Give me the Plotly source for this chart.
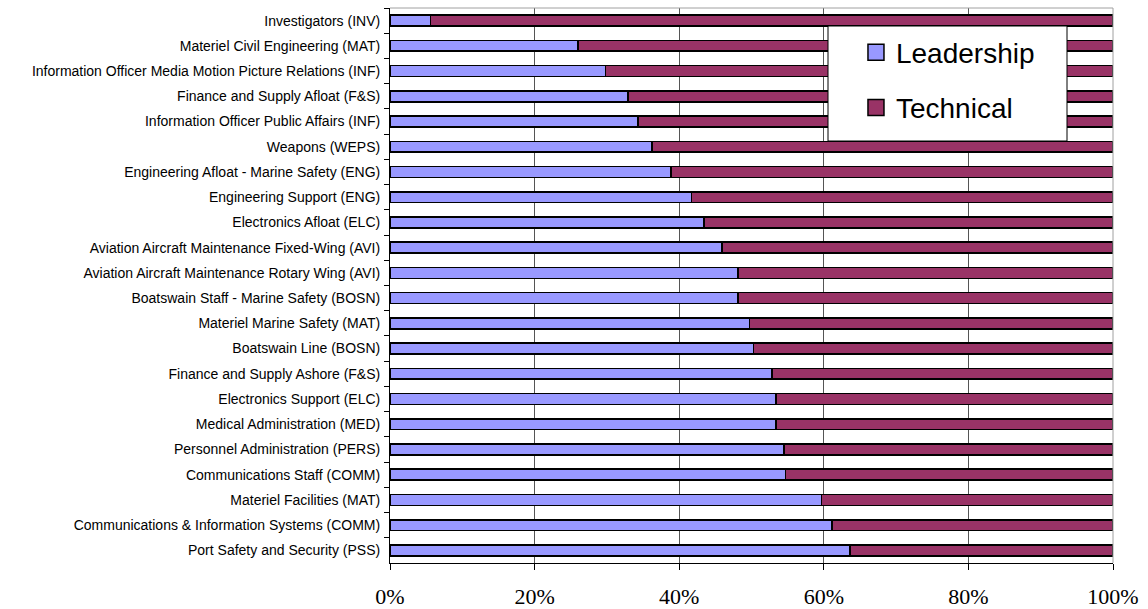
import plotly.graph_objects as go

# Career fields, listed top to bottom
categories = [
    "Investigators (INV)",
    "Materiel Civil Engineering (MAT)",
    "Information Officer Media Motion Picture Relations (INF)",
    "Finance and Supply Afloat (F&S)",
    "Information Officer Public Affairs (INF)",
    "Weapons (WEPS)",
    "Engineering Afloat - Marine Safety (ENG)",
    "Engineering Support (ENG)",
    "Electronics Afloat (ELC)",
    "Aviation Aircraft Maintenance Fixed-Wing (AVI)",
    "Aviation Aircraft Maintenance Rotary Wing (AVI)",
    "Boatswain Staff - Marine Safety (BOSN)",
    "Materiel Marine Safety (MAT)",
    "Boatswain Line (BOSN)",
    "Finance and Supply Ashore (F&S)",
    "Electronics Support (ELC)",
    "Medical Administration (MED)",
    "Personnel Administration (PERS)",
    "Communications Staff (COMM)",
    "Materiel Facilities (MAT)",
    "Communications & Information Systems (COMM)",
    "Port Safety and Security (PSS)",
]

# Share of leadership competencies (percent); technical is the remainder
leadership = [5.6, 26.0, 29.8, 32.9, 34.3, 36.2, 38.9, 41.7, 43.4, 45.9, 48.1,
              48.1, 49.7, 50.3, 52.8, 53.4, 53.4, 54.5, 54.7, 59.7, 61.1, 63.6]
technical = [round(100 - v, 1) for v in leadership]

x_ticks = [0, 20, 40, 60, 80, 100]
x_tick_labels = ["0%", "20%", "40%", "60%", "80%", "100%"]

series = [
    ("Leadership", leadership, "#9999FF", "lead"),
    ("Technical", technical, "#993366", "tech"),
]

fig = go.Figure()
for name, values, color, group in series:
    fig.add_trace(go.Bar(
        y=categories, x=values, name=name, orientation="h",
        legendgroup=group, showlegend=False,
        marker=dict(color=color, line=dict(color="#000000", width=1.6)),
    ))
for name, values, color, group in series:
    # legend key: larger square swatch for each series
    fig.add_trace(go.Scatter(
        x=[None], y=[None], mode="markers", name=name, legendgroup=group,
        marker=dict(symbol="square", size=16, color=color,
                    line=dict(color="#000000", width=1.5)),
    ))

fig.update_layout(
    width=1148, height=609,
    barmode="stack", bargap=0.57,
    paper_bgcolor="white", plot_bgcolor="white",
    margin=dict(l=390, r=35, t=8, b=46),
    showlegend=True,
    legend=dict(
        x=0.6445, y=0.965, xanchor="left", yanchor="top",
        bgcolor="rgba(0,0,0,0)", borderwidth=0,
        font=dict(family="Liberation Sans, Arial, sans-serif", size=28, color="#000"),
        tracegroupgap=16, itemsizing="trace",
    ),
    font=dict(family="Liberation Sans, Arial, sans-serif", color="#000"),
)

fig.update_xaxes(
    range=[0, 100], tickmode="array", tickvals=x_ticks, ticktext=x_tick_labels,
    showgrid=True, gridcolor="#555555", gridwidth=1,
    showline=True, linecolor="#000000", linewidth=1,
    ticks="outside", ticklen=6, tickcolor="#000000",
    tickfont=dict(family="Liberation Serif, Times New Roman, serif", size=22, color="#000"),
    ticklabelstandoff=8, automargin=False,
    zeroline=False, fixedrange=True,
)
fig.update_yaxes(
    autorange="reversed", type="category",
    showgrid=False, showline=True, linecolor="#000000", linewidth=1,
    ticks="outside", ticklen=5, tickcolor="#000000", tickson="boundaries",
    tickfont=dict(family="Liberation Sans, Arial, sans-serif", size=14, color="#000"),
    ticklabelstandoff=6, automargin=False,
    fixedrange=True,
)

# Light frame on the plot area's top and right edges
fig.add_shape(type="line", xref="paper", yref="paper", x0=0, x1=1, y0=1, y1=1,
              line=dict(color="#A0A0A0", width=1))
fig.add_shape(type="line", xref="paper", yref="paper", x0=1, x1=1, y0=0, y1=1,
              line=dict(color="#A0A0A0", width=1))

# Legend box
fig.add_shape(type="rect", xref="paper", yref="paper",
              x0=(828 - 390) / 723, x1=(1067 - 390) / 723,
              y0=(563 - 141) / 555, y1=(563 - 26) / 555,
              fillcolor="white", line=dict(color="#000000", width=1), layer="above")

fig.write_html("out.html")
